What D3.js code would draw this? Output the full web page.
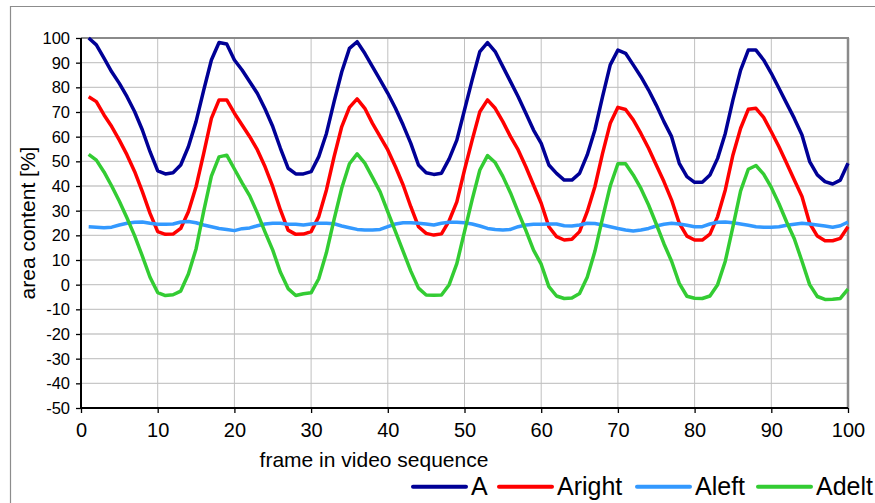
<!DOCTYPE html>
<html><head><meta charset="utf-8">
<script src="https://cdn.jsdelivr.net/npm/d3@7"></script>
<style>html,body{margin:0;padding:0;background:#fff;}svg{display:block;font-family:"Liberation Sans",Arial,sans-serif;}</style>
</head><body>
<svg id="c" width="875" height="503"></svg>
<script>
const frames = d3.range(1, 101);
const seriesA = [100,97.2,91.8,86.3,81.6,76.2,70.1,62.7,53.9,46.1,44.9,45.4,48.5,55.9,66.1,78.9,91.1,98.2,97.6,91.1,87,82.3,77.5,71.2,64.1,55.3,47.2,44.9,44.9,45.8,51.9,61.3,74.2,86.3,95.8,98.5,93.8,88.4,83,77.6,71.5,64.7,57.3,48.5,45.4,44.7,45.2,51,58.6,70.8,83,94.5,98.1,94.5,88.4,82.3,76.2,69.5,62.7,57.3,48.5,45.1,42.4,42.4,45.1,52.6,62.7,76.2,89.1,95.1,93.8,89.1,84.3,78.9,72.8,66.1,60,49.2,43.8,41.5,41.5,44.5,51.2,61.3,74.9,87,95.1,95.1,91.1,85.7,79.6,73.5,67.4,60.7,49.9,44.5,41.8,40.8,42.4,49.2];
const seriesAright = [76.2,74.2,68.8,64.1,58.6,52.6,45.8,37.7,28.9,21.5,20.4,20.5,22.8,29.6,39.7,53.2,67.4,74.9,74.9,69.5,64.7,60,54.6,47.8,39.7,30.3,22.1,20.4,20.5,21.5,27.6,38.4,51.9,64.1,71.9,75.3,71.5,65.4,60,54.6,47.8,40.4,31.6,23.5,20.8,20.1,20.6,25.9,33.6,46.5,58.6,70.1,74.9,71.5,66.1,60,54.6,47.8,40.4,33,23.5,19.5,18.1,18.4,21.5,29.6,39.7,53.2,65.4,71.9,71,66.8,61.3,55.3,48.5,41.8,34.3,24.9,19.7,18.1,18.1,20.5,27.6,38.4,52.6,63.4,71.1,71.5,67.8,62,55.9,49.2,42.4,35.7,24.9,19.7,17.8,17.8,18.8,23.5];
const seriesAleft = [23.5,23.3,23.1,23.3,24.2,24.9,25.3,25.4,24.9,24.5,24.5,24.6,25.4,25.6,25.1,24.2,23.5,22.8,22.4,21.9,22.7,23,23.9,24.6,24.9,24.9,24.5,24.5,24.2,24.6,24.9,24.9,24.7,23.8,23.1,22.4,22.2,22.2,22.4,23.5,24.6,25.1,25.1,24.9,24.6,24.2,24.9,25.3,25.3,25.1,24.6,23.8,22.8,22.4,22.2,22.4,23.5,24.2,24.5,24.5,24.6,24.6,23.9,23.8,24.2,24.9,24.8,24.2,23.5,22.8,22.2,21.8,22.2,22.8,23.8,24.5,24.9,24.6,24.1,23.5,23.5,24.6,25.3,25.4,25.1,24.6,24.1,23.5,23.3,23.3,23.5,24.1,24.5,24.9,24.6,24.2,23.8,23.3,23.9,25.4];
const seriesAdelt = [52.8,50.5,45.7,40,33.8,27,19.8,11.6,3,-3.2,-4.4,-4.1,-2.6,4.3,14.5,29.8,44,51.8,52.5,46.9,41.3,36,29,21.3,14,5,-1.6,-4.4,-3.7,-3.3,2.4,13,26.5,39.2,49,53,49.3,43.5,37.6,29.5,21.5,13.5,5.5,-1.4,-4.2,-4.3,-4.2,0,8.5,21.5,34.5,46.5,52.3,49.5,43.9,37.2,29.4,22,14,8.3,-0.8,-4.6,-5.6,-5.4,-3.6,3,13.5,27,40,49,49,44.5,39,32.3,24.6,16.6,9.5,0.5,-4.7,-5.5,-5.6,-4.6,0,9.5,23.5,38,46.8,48.3,44.8,39.4,32.8,25.4,18.6,9.5,0,-4.8,-6,-5.9,-5.6,-1.8];
const seriesNames = ["A","Aright","Aleft","Adelt"];
const seriesColors = ["#000096","#ff0000","#3399ff","#33cc33"];
const xTicks = d3.range(0, 101, 10);
const yTicks = d3.range(-50, 101, 10);
const xTitle = "frame in video sequence";
const yTitle = "area content [%]";

const svg = d3.select("#c");
const L = 81, R = 848, T = 38, B = 408;
const x = d3.scaleLinear().domain([0, 100]).range([L, R]);
const y = d3.scaleLinear().domain([-50, 100]).range([B, T]);

// outer frame
svg.append("line").attr("x1",10).attr("x2",875).attr("y1",6.5).attr("y2",6.5).attr("stroke","#8c8c8c").attr("stroke-width",1.2);
svg.append("line").attr("x1",10.5).attr("x2",10.5).attr("y1",6).attr("y2",503).attr("stroke","#8c8c8c").attr("stroke-width",1.2);

// grid
svg.append("g").selectAll("line").data(yTicks.filter(d => d > -50 && d < 100)).join("line")
  .attr("x1", L).attr("x2", R).attr("y1", d => y(d)).attr("y2", d => y(d))
  .attr("stroke", "#c8c8c8").attr("stroke-width", 1.3);
svg.append("g").selectAll("line").data(xTicks.filter(d => d > 0 && d < 100)).join("line")
  .attr("x1", d => x(d)).attr("x2", d => x(d)).attr("y1", T).attr("y2", B)
  .attr("stroke", "#c0c0c0").attr("stroke-width", 1);

// plot border top/right
svg.append("line").attr("x1",L).attr("x2",R+1).attr("y1",T).attr("y2",T).attr("stroke","#8a8a8a").attr("stroke-width",2);
svg.append("line").attr("x1",R).attr("x2",R).attr("y1",T).attr("y2",B).attr("stroke","#8a8a8a").attr("stroke-width",2.5);

// axes
const yAxis = svg.append("g").attr("transform", `translate(${L},0)`)
  .call(d3.axisLeft(y).tickValues(yTicks).tickFormat(d => String(d)).tickSize(5).tickPadding(6));
const xAxis = svg.append("g").attr("transform", `translate(0,${B})`)
  .call(d3.axisBottom(x).tickValues(xTicks).tickFormat(d => String(d)).tickSize(5).tickPadding(10));
[yAxis, xAxis].forEach(g => {
  g.select(".domain").attr("stroke", "#000").attr("stroke-width", 2);
  g.selectAll(".tick line").attr("stroke", "#000").attr("stroke-width", 1.3);
  g.selectAll("text").attr("fill", "#000").style("font-family", '"Liberation Sans",Arial,sans-serif');
});
yAxis.select(".domain").attr("d", `M0,${B}V${T}`);
xAxis.select(".domain").attr("d", `M${L},0H${R}`);
yAxis.selectAll("text").style("font-size", "16.5px").attr("x", -11).attr("dy", "0.34em");
xAxis.selectAll("text").style("font-size", "20px").attr("y", 15).attr("dy", "0.72em");

// titles
svg.append("text").attr("x", 374).attr("y", 467).attr("text-anchor", "middle")
  .style("font-size", "21px").text(xTitle);
svg.append("text").attr("transform", "translate(35,223) rotate(-90)").attr("text-anchor", "middle")
  .style("font-size", "21px").text(yTitle);

// lines
const allSeries = [seriesA, seriesAright, seriesAleft, seriesAdelt];
const line = d3.line().x((d, i) => x(frames[i])).y(d => y(d));
svg.append("g").selectAll("path").data(allSeries).join("path")
  .attr("d", d => line(d)).attr("fill", "none")
  .attr("stroke", (d, i) => seriesColors[i]).attr("stroke-width", 3.5)
  .attr("stroke-linejoin", "round").attr("stroke-linecap", "butt");

// legend
const legX = [413, 499, 637, 758];
const lg = svg.append("g").selectAll("g").data(seriesNames).join("g")
  .attr("transform", (d, i) => `translate(${legX[i]},0)`);
lg.append("line").attr("x1", 0).attr("x2", 53).attr("y1", 486.7).attr("y2", 486.7)
  .attr("stroke", (d, i) => seriesColors[i]).attr("stroke-width", 4).attr("stroke-linecap","round");
lg.append("text").attr("x", 58).attr("y", 494.5).style("font-size", "25px").attr("fill", "#000").text(d => d);
</script>
</body></html>
